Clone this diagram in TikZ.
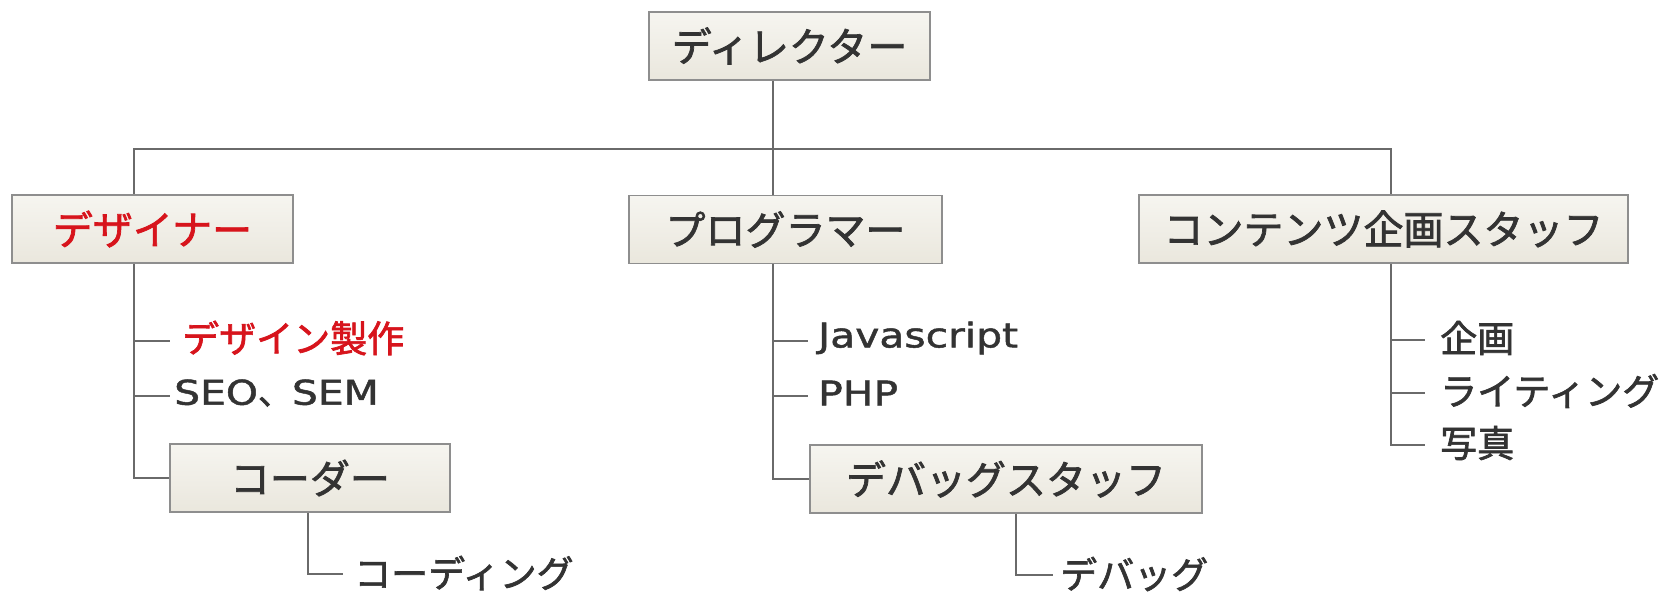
\documentclass[tikz,border=0pt]{standalone}
\usepackage{fontspec}
\newfontfamily\jp[FakeBold=1.8]{Noto Sans CJK JP}
\newfontfamily\lat[FakeStretch=1.2,FakeBold=1.4]{DejaVu Sans}
\definecolor{txt}{HTML}{333333}
\definecolor{jred}{HTML}{D7141C}
\definecolor{boxline}{HTML}{8E8E8E}
\definecolor{boxtop}{HTML}{F6F5F0}
\definecolor{boxbot}{HTML}{EAE7DD}
\definecolor{lineclr}{HTML}{6A6A6A}
\begin{document}
\begin{tikzpicture}[x=1pt,y=-1pt,
  box/.style={draw=boxline, line width=1.8pt, top color=boxtop, bottom color=boxbot,
    minimum height=68pt, inner sep=0pt, font=\jp\fontsize{40}{42}\selectfont, text=txt},
  item/.style={anchor=west, inner sep=0pt, font=\jp\fontsize{37}{40}\selectfont, text=txt},
  latitem/.style={item, font=\lat\fontsize{34}{38}\selectfont},
  conn/.style={draw=lineclr, line width=2pt}]
\useasboundingbox[fill=white] (0,0) rectangle (1668,592);

% boxes
\node[box, minimum width=281pt] (dir) at (789.5,46) {ディレクター};
\node[box, minimum width=281pt, text=jred] (des) at (152.5,229) {デザイナー};
\node[box, minimum width=313pt] (prog) at (785.5,229.5) {プログラマー};
\node[box, minimum width=489pt] (cont) at (1383.5,229) {コンテンツ企画スタッフ};
\node[box, minimum width=280pt] (coder) at (310,478) {コーダー};
\node[box, minimum width=392pt] (debug) at (1006,479) {デバッグスタッフ};

% items
\node[item, text=jred] (d1) at (182,338) {デザイン製作};
\node[latitem] (d2) at (174,393) {SEO{\jp 、}SEM};
\node[latitem] (p1) at (818,338) {Javascript};
\node[latitem] (p2) at (818,393) {PHP};
\node[item] (c1) at (1440,338) {企画};
\node[item] (c2) at (1440,391) {ライティング};
\node[item] (c3) at (1440,443) {写真};
\node[item] (cd1) at (354,573) {コーディング};
\node[item] (db1) at (1060,574) {デバッグ};

% trunk coordinates
\coordinate (tL) at (134,149);
\coordinate (tR) at (1391,149);
\coordinate (hub) at (773,149);
\coordinate (cx) at (308,0);
\coordinate (dx) at (1016,0);

% top bus
\draw[conn] (dir.south -| hub) -- (hub);
\draw[conn] (des.north -| tL) -- (tL) -- (tR) -- (cont.north -| tR);
\draw[conn] (hub) -- (prog.north -| hub);

% designer branch
\draw[conn] (des.south -| tL) -- (coder.west -| tL) -- (coder.west);
\draw[conn] ([yshift=-3pt]d1.west -| tL) -- ([xshift=-12pt,yshift=-3pt]d1.west);
\draw[conn] ([yshift=-3pt]d2.west -| tL) -- ([xshift=-4pt,yshift=-3pt]d2.west);

% programmer branch
\draw[conn] (prog.south -| hub) -- (debug.west -| hub) -- (debug.west);
\draw[conn] ([yshift=-3pt]p1.west -| hub) -- ([xshift=-10pt,yshift=-3pt]p1.west);
\draw[conn] ([yshift=-3pt]p2.west -| hub) -- ([xshift=-10pt,yshift=-3pt]p2.west);

% contents branch
\draw[conn] (cont.south -| tR) -- ([yshift=-2pt]c3.west -| tR) -- ([xshift=-15pt,yshift=-2pt]c3.west);
\draw[conn] ([yshift=-2pt]c1.west -| tR) -- ([xshift=-15pt,yshift=-2pt]c1.west);
\draw[conn] ([yshift=-2pt]c2.west -| tR) -- ([xshift=-15pt,yshift=-2pt]c2.west);

% coder / debug sub items
\draw[conn] (coder.south -| cx) -- ([yshift=-1pt]cd1.west -| cx) -- ([xshift=-11pt,yshift=-1pt]cd1.west);
\draw[conn] (debug.south -| dx) -- ([yshift=-1pt]db1.west -| dx) -- ([xshift=-7pt,yshift=-1pt]db1.west);
\end{tikzpicture}
\end{document}
